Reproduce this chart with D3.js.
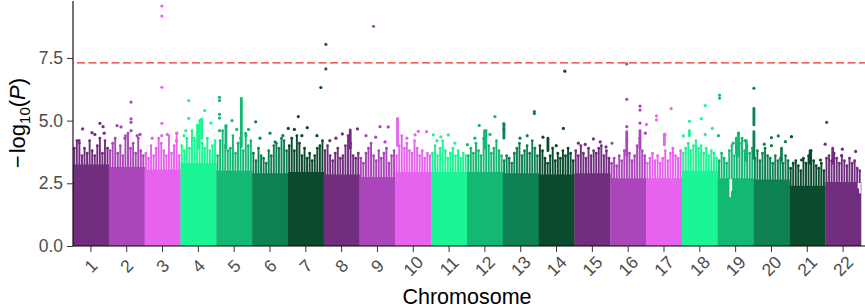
<!DOCTYPE html>
<meta charset="utf-8">
<style>
body { margin: 0; background: white; font-family: 'Liberation Sans', Arial, sans-serif; }
</style>
<body>
<script src="https://cdn.jsdelivr.net/npm/d3@7"></script>
<script>
"use strict";

// chromosomes on the x axis (equal width bands)
var chromosomes = ["1","2","3","4","5","6","7","8","9","10","11",
                   "12","13","14","15","16","17","18","19","20","21","22"];
var chrColours = ["#722e7e", "#aa46b9", "#e862f0", "#1bf593", "#13b872", "#0e8152", "#0a4a2d"];
var yTicks = [0, 2.5, 5, 7.5];
var threshold = 7.3;

// -log10(P) level up to which each chromosome is a solid mass of points
var solidLevel = [3.25, 3.15, 3.05, 3.3, 3.0, 2.9, 2.95, 2.85, 2.75, 2.95, 2.95,
                  2.95, 2.9, 2.85, 2.9, 2.7, 2.7, 3.0, 2.7, 2.65, 2.4, 2.55];

// tops of the ragged point columns, 14 per chromosome, left to right
var spikeTops = [
  [3.9, 4.2, 4.1, 3.6, 3.9, 3.7, 4.2, 3.8, 3.6, 4.0, 4.3, 3.7, 4.2, 3.9],
  [3.8, 4.1, 4.3, 3.7, 4.0, 3.6, 4.4, 4.5, 3.9, 4.1, 3.7, 4.3, 3.8, 3.6],
  [3.7, 3.5, 4.0, 3.6, 3.9, 4.3, 4.1, 3.8, 3.6, 4.4, 3.7, 4.0, 4.5, 3.6],
  [4.0, 3.8, 4.3, 3.9, 4.6, 4.2, 4.8, 5.0, 4.1, 3.9, 4.3, 3.8, 4.0, 4.2],
  [3.6, 4.2, 4.6, 4.0, 3.8, 3.9, 4.4, 3.7, 4.1, 4.3, 3.8, 4.5, 4.0, 4.2],
  [3.7, 3.4, 3.9, 3.6, 3.5, 3.3, 3.8, 3.6, 4.0, 4.1, 3.9, 4.3, 4.2, 3.8],
  [4.0, 4.3, 3.8, 4.4, 4.1, 3.6, 3.9, 3.5, 3.7, 3.4, 3.6, 3.9, 4.0, 4.2],
  [3.8, 4.0, 3.6, 3.4, 3.7, 3.9, 3.5, 3.6, 4.0, 4.4, 4.1, 3.6, 3.5, 3.7],
  [3.5, 3.3, 3.7, 3.9, 4.1, 3.6, 3.4, 3.8, 3.5, 3.7, 3.9, 3.3, 3.6, 3.8],
  [3.6, 4.0, 4.4, 3.9, 4.1, 3.8, 3.7, 4.2, 3.9, 3.6, 3.8, 3.5, 3.7, 3.6],
  [3.7, 4.0, 3.6, 3.9, 4.2, 3.8, 3.5, 3.7, 3.9, 3.6, 3.8, 3.5, 3.7, 3.6],
  [3.6, 3.9, 3.7, 4.1, 3.8, 3.6, 4.3, 4.6, 4.0, 3.7, 3.9, 4.2, 3.8, 3.6],
  [3.4, 3.6, 3.5, 3.3, 3.7, 3.9, 4.1, 3.6, 3.8, 4.0, 3.7, 4.2, 3.9, 3.6],
  [4.0, 3.8, 3.5, 3.3, 3.6, 3.9, 3.4, 3.7, 3.5, 3.8, 3.6, 3.9, 3.7, 3.4],
  [3.8, 3.6, 4.0, 3.7, 3.5, 3.9, 3.6, 3.8, 3.7, 3.9, 4.0, 3.6, 3.8, 3.5],
  [3.3, 3.5, 3.2, 3.6, 3.4, 3.8, 4.2, 3.7, 3.4, 3.6, 4.0, 4.3, 3.8, 3.6],
  [3.3, 3.5, 3.7, 3.4, 3.6, 3.3, 3.5, 3.8, 3.4, 3.7, 3.9, 3.6, 3.5, 3.8],
  [3.7, 3.9, 4.1, 3.8, 4.0, 4.2, 3.9, 4.0, 3.7, 3.9, 3.6, 3.8, 3.7, 3.5],
  [3.4, 3.7, 3.5, 3.3, 3.8, 4.0, 3.6, 3.9, 4.1, 4.3, 3.8, 4.0, 3.7, 3.9],
  [3.5, 3.8, 3.4, 3.7, 3.9, 3.6, 3.5, 3.3, 3.6, 3.4, 3.5, 3.3, 3.6, 3.4],
  [3.1, 3.3, 3.4, 3.2, 3.0, 3.5, 3.3, 3.6, 3.8, 3.4, 3.2, 3.1, 3.3, 3.0],
  [3.5, 3.6, 3.4, 3.7, 3.5, 3.3, 3.6, 3.4, 3.2, 3.5, 3.3, 3.4, 3.1, 3.0]
];

// white notches that cut into the solid mass: [chromosome, position 0-1, bottom]
var gaps = [[19, .35, 1.95], [19, .38, 2.2], [22, .93, 2.3], [22, .97, 2.1]];

// runs of stacked points: [chromosome, position 0-1, low, high]
var streaks = [
  [4, .51, 3.9, 4.8], [4, .59, 4.3, 5.05], [5, .27, 3.9, 4.79], [5, .70, 3.96, 5.89],
  [8, .74, 3.9, 4.63], [10, .06, 4.0, 5.07], [12, .49, 3.9, 4.6], [13, .03, 4.3, 4.87],
  [14, .26, 3.8, 4.3], [16, .46, 3.6, 4.56], [16, .83, 3.9, 4.6], [17, .51, 4.03, 4.46],
  [18, .21, 4.4, 4.6], [19, .52, 3.7, 4.3], [19, .58, 3.6, 4.5], [19, .80, 3.4, 4.2],
  [20, .01, 4.83, 5.49], [20, .01, 3.5, 4.56], [20, .78, 3.4, 3.9], [21, .58, 3.3, 3.8],
  [22, .21, 3.3, 3.9]
];

// single points standing out: [chromosome, position 0-1, -log10(P)]
var hits = [
  [1, .17, 4.2], [1, .27, 4.67], [1, .53, 4.52], [1, .61, 4.45], [1, .75, 4.89], [1, .84, 4.76], [1, .87, 4.5],
  [2, .23, 4.8], [2, .34, 4.75], [2, .45, 4.3], [2, .62, 5.74], [2, .62, 5.07], [2, .62, 4.93], [2, .62, 4.6], [2, .79, 4.4], [2, .87, 4.45],
  [3, .21, 4.3], [3, .48, 9.57], [3, .48, 9.17], [3, .48, 6.33], [3, .48, 4.89], [3, .48, 4.4], [3, .63, 4.45], [3, .89, 4.2], [3, .90, 4.5],
  [4, .10, 4.4], [4, .15, 4.6], [4, .23, 5.8], [4, .23, 5.09], [4, .38, 4.3], [4, .51, 4.8], [4, .59, 5.05], [4, .68, 5.4], [4, .85, 4.9],
  [5, .09, 5.93], [5, .09, 5.8], [5, .09, 5.25], [5, .09, 5.1], [5, .09, 4.6], [5, .27, 4.79], [5, .44, 5.0], [5, .57, 4.65], [5, .83, 4.4], [5, .90, 4.65],
  [6, .10, 4.95], [6, .22, 4.3], [6, .50, 4.5], [6, .64, 4.15], [6, .86, 4.4],
  [7, .01, 4.69], [7, .18, 4.65], [7, .29, 5.16], [7, .39, 4.4], [7, .54, 4.72], [7, .81, 4.4], [7, .92, 6.32],
  [8, .06, 8.04], [8, .06, 7.06], [8, .17, 4.2], [8, .34, 4.3], [8, .52, 4.47], [8, .94, 4.67],
  [9, .18, 4.4], [9, .39, 8.76], [9, .45, 4.34], [9, .57, 4.76], [9, .71, 4.15], [9, .80, 4.75],
  [10, .06, 5.07], [10, .32, 4.3], [10, .55, 4.43], [10, .64, 4.57], [10, .87, 4.56],
  [11, .06, 4.43], [11, .16, 4.2], [11, .27, 4.35], [11, .48, 4.43], [11, .66, 4.1],
  [12, .01, 4.04], [12, .22, 4.3], [12, .34, 4.81], [12, .64, 4.45], [12, .78, 5.16],
  [13, .03, 4.87], [13, .03, 4.65], [13, .48, 4.3], [13, .68, 4.4], [13, .88, 5.36], [13, .88, 5.28],
  [14, .12, 4.34], [14, .49, 4.0], [14, .69, 4.69], [14, .73, 6.97],
  [15, .11, 4.1], [15, .30, 4.05], [15, .53, 4.27], [15, .72, 4.15], [15, .88, 3.95],
  [16, .05, 4.1], [16, .46, 7.26], [16, .46, 5.85], [16, .46, 4.76], [16, .83, 5.58], [16, .83, 5.42], [16, .83, 4.9], [16, .98, 4.5],
  [17, .01, 4.85], [17, .29, 5.19], [17, .29, 5.03], [17, .53, 4.44], [17, .70, 5.48],
  [18, .04, 4.39], [18, .21, 4.97], [18, .54, 5.07], [18, .65, 5.6], [18, .65, 4.45], [18, .85, 4.69],
  [19, .02, 4.4], [19, .05, 6.02], [19, .05, 5.9], [19, .43, 4.1], [19, .58, 4.5], [19, .76, 4.2],
  [20, .01, 6.29], [20, .30, 4.06], [20, .50, 4.32], [20, .50, 4.0], [20, .69, 4.39], [20, .89, 4.16],
  [21, .06, 4.36], [21, .34, 3.43], [21, .87, 3.43],
  [22, .00, 4.06], [22, .04, 4.93], [22, .46, 3.6], [22, .48, 3.86], [22, .85, 3.77]
];

var width = 865, height = 308;
var font = "'Liberation Sans', Arial, sans-serif";

var x = d3.scaleBand().domain(chromosomes).range([73, 861]).padding(0);
var y = d3.scaleLinear().domain([0, 9.77]).range([246, 1]);

var colour = c => chrColours[(+c - 1) % 7];
var px = (c, pos) => x(String(c)) + pos * x.bandwidth();

var svg = d3.select("body").append("svg")
  .attr("width", width)
  .attr("height", height)
  .attr("font-family", font);

// solid blocks
svg.append("g").selectAll("rect")
  .data(chromosomes)
  .join("rect")
  .attr("x", d => x(d))
  .attr("width", x.bandwidth() + 0.3)
  .attr("y", (d, i) => y(solidLevel[i]))
  .attr("height", (d, i) => y(0) - y(solidLevel[i]))
  .attr("fill", d => colour(d));

svg.append("g").selectAll("rect")
  .data(gaps)
  .join("rect")
  .attr("x", d => px(d[0], d[1]) - 0.8)
  .attr("width", 1.6)
  .attr("y", d => y(solidLevel[d[0] - 1]) - 1)
  .attr("height", d => y(d[2]) - y(solidLevel[d[0] - 1]) + 1)
  .attr("fill", "white");

// ragged columns
var spikes = chromosomes.flatMap((c, i) =>
  spikeTops[i].map((v, j) => ({ c: c, pos: (j + 0.5) / spikeTops[i].length, lo: solidLevel[i], hi: v })));

var sg = svg.append("g");
sg.selectAll("line")
  .data(spikes)
  .join("line")
  .attr("x1", d => px(d.c, d.pos))
  .attr("x2", d => px(d.c, d.pos))
  .attr("y1", d => y(d.lo) + 1)
  .attr("y2", d => y(d.hi))
  .attr("stroke", d => colour(d.c))
  .attr("stroke-width", 1.9);
sg.selectAll("circle")
  .data(spikes)
  .join("circle")
  .attr("cx", d => px(d.c, d.pos))
  .attr("cy", d => y(d.hi))
  .attr("r", 1.4)
  .attr("fill", d => colour(d.c));

svg.append("g").selectAll("line")
  .data(streaks)
  .join("line")
  .attr("x1", d => px(d[0], d[1]))
  .attr("x2", d => px(d[0], d[1]))
  .attr("y1", d => y(d[2]))
  .attr("y2", d => y(d[3]))
  .attr("stroke", d => colour(d[0]))
  .attr("stroke-width", 2.8)
  .attr("stroke-linecap", "round");

svg.append("g").selectAll("circle")
  .data(hits)
  .join("circle")
  .attr("cx", d => px(d[0], d[1]))
  .attr("cy", d => y(d[2]))
  .attr("r", 1.6)
  .attr("fill", d => colour(d[0]));

// genome-wide significance line
svg.append("line")
  .attr("class", "threshold")
  .attr("x1", 73).attr("x2", 865)
  .attr("y1", y(threshold)).attr("y2", y(threshold))
  .style("stroke", "#f0302a")
  .style("stroke-width", "1.3px")
  .style("stroke-dasharray", "8,3.5")
  .style("stroke-dashoffset", "-4");

// axes
var yAxis = svg.append("g")
  .attr("transform", "translate(73,0)")
  .call(d3.axisLeft(y).tickValues(yTicks).tickFormat(d3.format(".1f")).tickSize(6).tickPadding(4));
yAxis.select(".domain").attr("d", "M0," + y.range()[1] + "V" + y(0)).attr("stroke", "black").attr("stroke-width", 1.1);

var xAxis = svg.append("g")
  .attr("transform", "translate(0,246)")
  .call(d3.axisBottom(x).tickSize(6).tickSizeOuter(0));
xAxis.select(".domain").attr("d", "M73,0H865").attr("stroke", "black").attr("stroke-width", 1.1);
xAxis.selectAll(".tick text")
  .attr("y", 0).attr("dy", "0.35em")
  .attr("transform", "translate(0,20) rotate(-45)")
  .attr("text-anchor", "middle");

[yAxis, xAxis].forEach(g => g.attr("font-family", font).attr("font-size", 17.5));
yAxis.selectAll(".tick line").attr("stroke", "#333");
xAxis.selectAll(".tick line").attr("stroke", "#333");
svg.selectAll(".tick text").attr("fill", "#4d4d4d");

svg.append("text")
  .attr("x", 467).attr("y", 304)
  .attr("text-anchor", "middle")
  .attr("font-size", 21.5)
  .text("Chromosome");

var yt = svg.append("text")
  .attr("transform", "translate(25,123) rotate(-90)")
  .attr("text-anchor", "middle")
  .attr("font-size", 22);
yt.append("tspan").text("\u2212");
yt.append("tspan").attr("dx", 2).text("log");
yt.append("tspan").attr("font-size", 15).attr("dy", 5).text("10");
yt.append("tspan").attr("dy", -5).text("(");
yt.append("tspan").attr("font-style", "italic").text("P");
yt.append("tspan").text(")");
</script>
</body>
